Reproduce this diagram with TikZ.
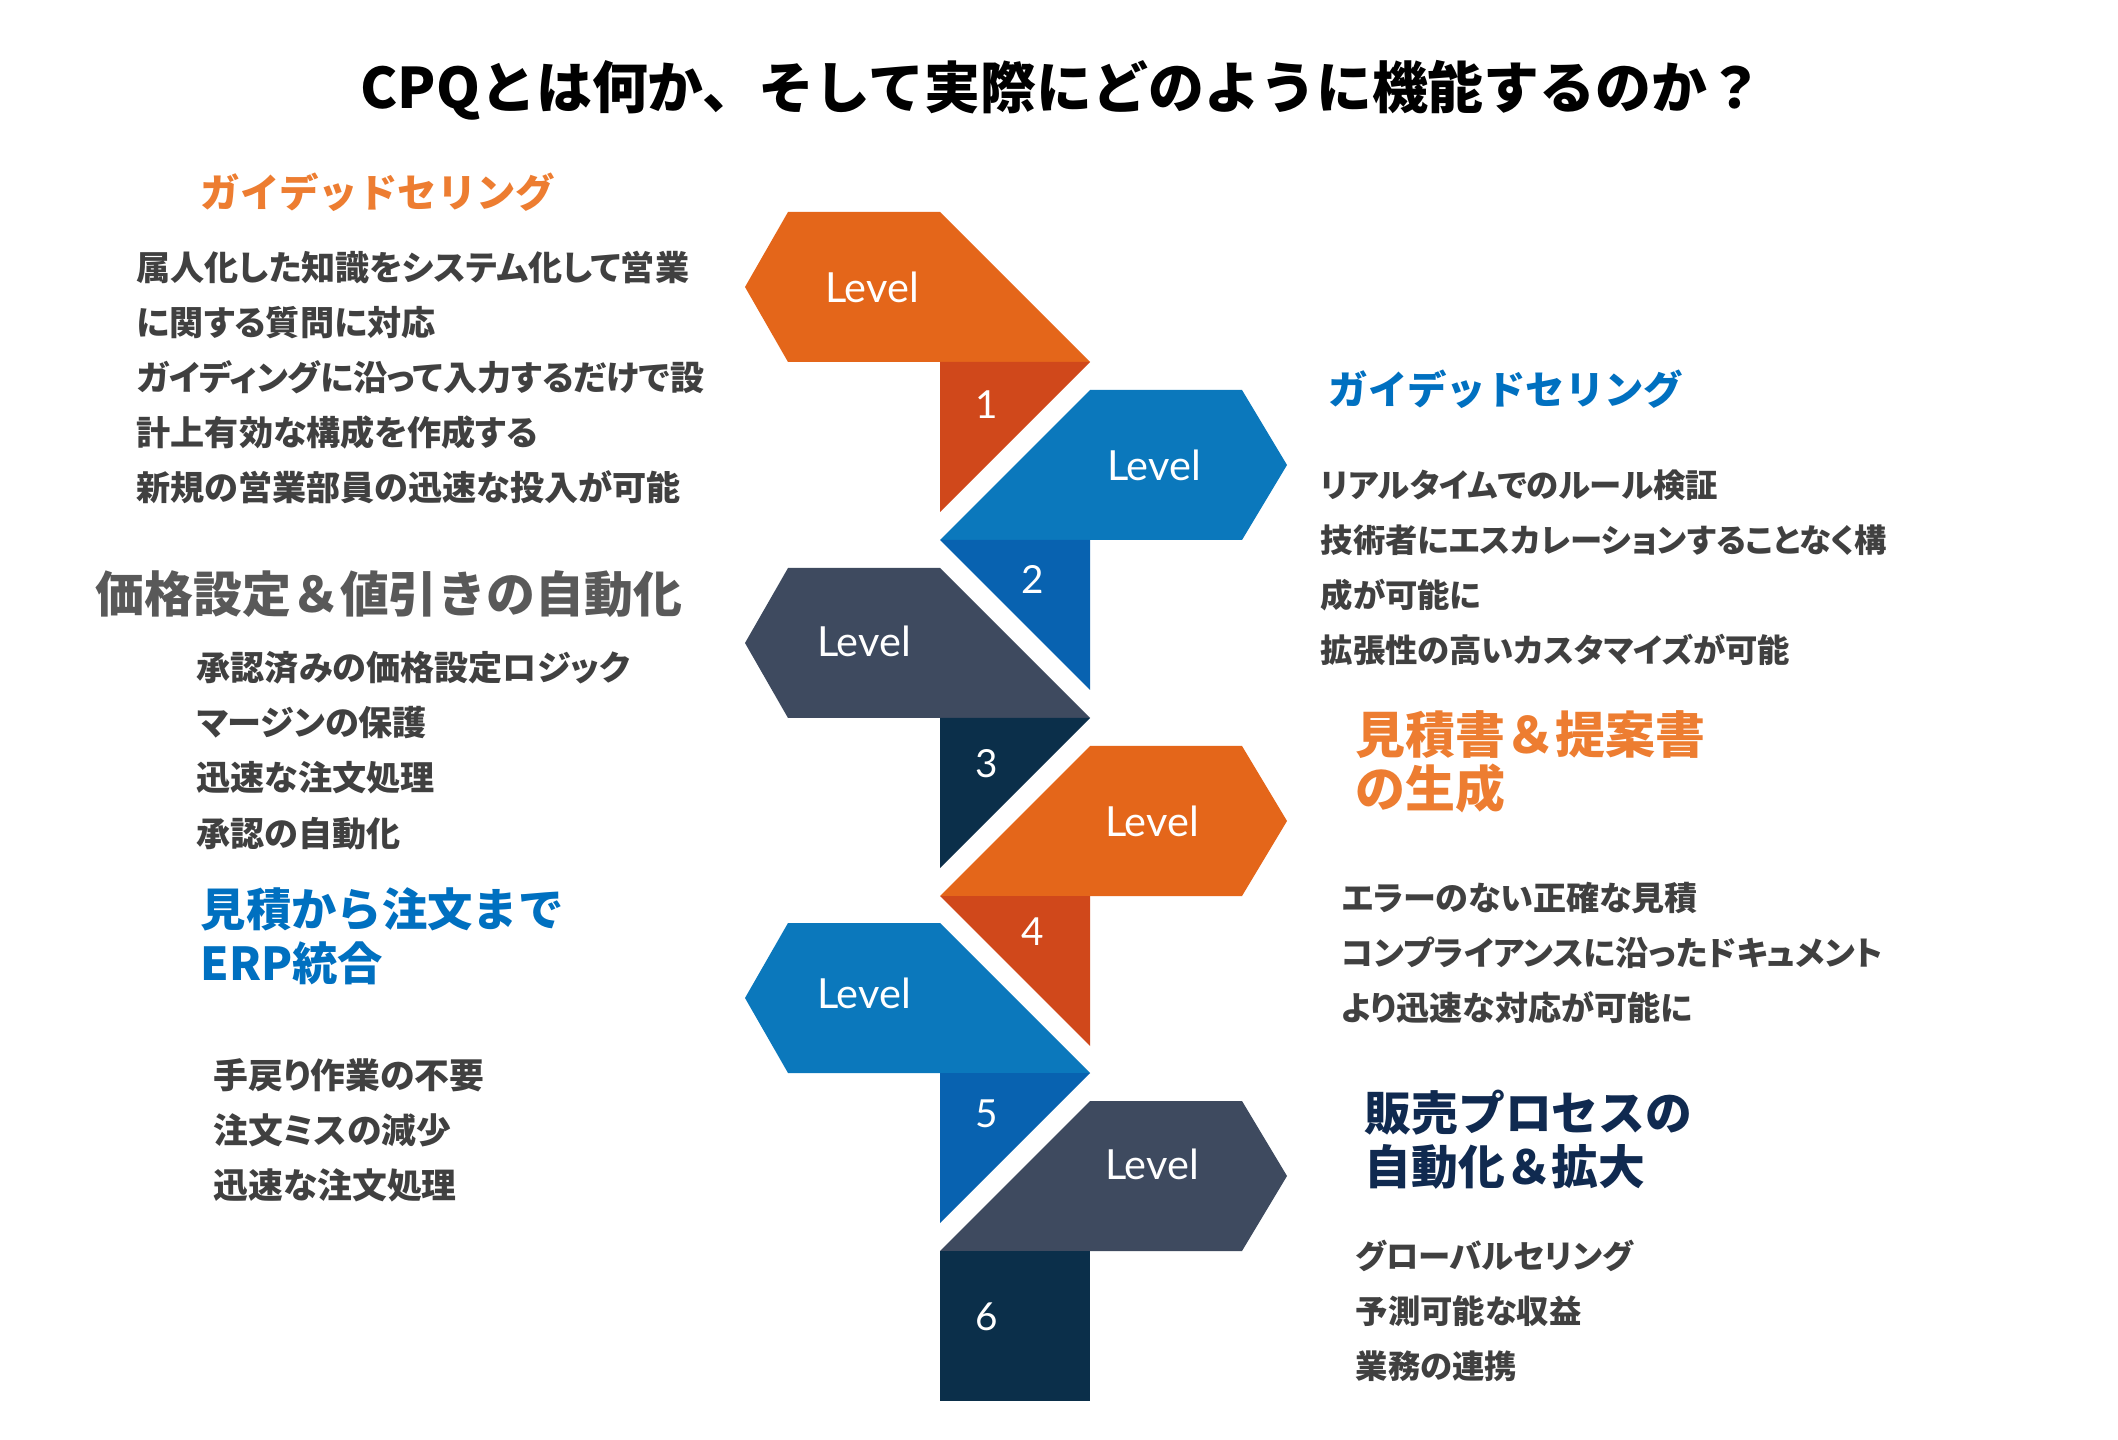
\documentclass[tikz,border=0pt]{standalone}
\usepackage{fontspec}
\setmainfont{Lato}
\newfontfamily\jp{Noto Sans CJK JP}[CharacterWidth=AlternateProportional]
\newfontfamily\jph{Noto Sans CJK JP}
\usetikzlibrary{positioning}

\definecolor{lvorange}{HTML}{E4661A}
\definecolor{taborange}{HTML}{D0481B}
\definecolor{lvblue}{HTML}{0B78BC}
\definecolor{tabblue}{HTML}{0862B0}
\definecolor{lvslate}{HTML}{3E4A5F}
\definecolor{tabnavy}{HTML}{0B2F4A}
\definecolor{hdorange}{HTML}{ED7D31}
\definecolor{hdblue}{HTML}{0070C0}
\definecolor{hdnavy}{HTML}{102A50}
\definecolor{hdgray}{HTML}{595959}
\definecolor{bodygray}{HTML}{404040}

\begin{document}
\begin{tikzpicture}[
    x=0.01cm, y=-0.01cm,
    every node/.style={inner sep=0pt},
    title/.style={font=\jph\bfseries\fontsize{15.9pt}{20pt}\selectfont},
    head/.style={anchor=west, align=left, font=\jph\bfseries\fontsize{#1}{15.4pt}\selectfont},
    body/.style={anchor=north west, align=left, text=bodygray, font=\jp\bfseries\fontsize{#1}{15.65pt}\selectfont},
    lvtext/.style={text=white, font=\fontsize{11.8pt}{14pt}\selectfont},
    numtext/.style={text=white, font=\fontsize{11pt}{13pt}\selectfont}
]

\useasboundingbox[fill=white] (0,0) rectangle (2118,1440);

% Title
\node[title] (title) at (1062,90) {CPQとは何か、そして実際にどのように機能するのか？};

% Level 1 (left, orange)
\begin{scope}[shift={(0,212)}]
    \fill[lvorange] (788,0) -- (940,0) -- (1090,150) -- (788,150) -- (745,75) -- cycle;
    \fill[taborange] (940,150) -- (1090,150) -- (940,300) -- cycle;
    \node[lvtext] (lv1) at (872,75) {Level};
    \node[numtext] (n1) at (987,193) {1};
\end{scope}

% Level 2 (right, blue)
\begin{scope}[shift={(0,390)}]
    \fill[lvblue] (1090,0) -- (1242,0) -- (1287,75) -- (1242,150) -- (940,150) -- cycle;
    \fill[tabblue] (940,150) -- (1090,150) -- (1090,300) -- cycle;
    \node[lvtext] (lv2) at (1154,75) {Level};
    \node[numtext] (n2) at (1033,189) {2};
\end{scope}

% Level 3 (left, slate)
\begin{scope}[shift={(0,568)}]
    \fill[lvslate] (788,0) -- (940,0) -- (1090,150) -- (788,150) -- (745,75) -- cycle;
    \fill[tabnavy] (940,150) -- (1090,150) -- (940,300) -- cycle;
    \node[lvtext] (lv3) at (864,73) {Level};
    \node[numtext] (n3) at (987,196) {3};
\end{scope}

% Level 4 (right, orange)
\begin{scope}[shift={(0,746)}]
    \fill[lvorange] (1090,0) -- (1242,0) -- (1287,75) -- (1242,150) -- (940,150) -- cycle;
    \fill[taborange] (940,150) -- (1090,150) -- (1090,300) -- cycle;
    \node[lvtext] (lv4) at (1152,75) {Level};
    \node[numtext] (n4) at (1033,186) {4};
\end{scope}

% Level 5 (left, blue)
\begin{scope}[shift={(0,923)}]
    \fill[lvblue] (788,0) -- (940,0) -- (1090,150) -- (788,150) -- (745,75) -- cycle;
    \fill[tabblue] (940,150) -- (1090,150) -- (940,300) -- cycle;
    \node[lvtext] (lv5) at (864,70) {Level};
    \node[numtext] (n5) at (987,191) {5};
\end{scope}

% Level 6 (right, slate)
\begin{scope}[shift={(0,1101)}]
    \fill[lvslate] (1090,0) -- (1242,0) -- (1287,75) -- (1242,150) -- (940,150) -- cycle;
    \fill[tabnavy] (940,150) rectangle (1090,300);
    \node[lvtext] (lv6) at (1152,63) {Level};
    \node[numtext] (n6) at (987,216) {6};
\end{scope}

% Left column
\node[head=11.2pt, text=hdorange] (guideL) at (200,192) {ガイデッドセリング};
\node[body=9.7pt] (guideLtxt) at (136,250) {属人化した知識をシステム化して営業\\に関する質問に対応\\ガイディングに沿って入力するだけで設\\計上有効な構成を作成する\\新規の営業部員の迅速な投入が可能};

\node[head=13.9pt, text=hdgray] (price) at (95,594) {価格設定＆値引きの自動化};
\node[body=9.7pt] (pricetxt) at (196,651) {承認済みの価格設定ロジック\\マージンの保護\\迅速な注文処理\\承認の自動化};

\node[head=12.9pt, text=hdblue, anchor=north west] (erp) at (200,887) {見積から注文まで\\ERP統合};
\node[body=9.9pt] (erptxt) at (213,1058) {手戻り作業の不要\\注文ミスの減少\\迅速な注文処理};

% Right column
\node[head=11.2pt, text=hdblue] (guideR) at (1328,389) {ガイデッドセリング};
\node[body=9.2pt] (guideRtxt) at (1320,469) {リアルタイムでのルール検証\\技術者にエスカレーションすることなく構\\成が可能に\\拡張性の高いカスタマイズが可能};

\node[head=14.2pt, text=hdorange, anchor=north west] (quote) at (1355,710) {見積書＆提案書\\の生成};
\node[body=9.4pt] (quotetxt) at (1341,881) {エラーのない正確な見積\\コンプライアンスに沿ったドキュメント\\より迅速な対応が可能に};

\node[head=13.3pt, text=hdnavy, anchor=north west] (sales) at (1364,1089) {販売プロセスの\\自動化＆拡大};
\node[body=9.2pt] (salestxt) at (1355,1239) {グローバルセリング\\予測可能な収益\\業務の連携};

\end{tikzpicture}
\end{document}
